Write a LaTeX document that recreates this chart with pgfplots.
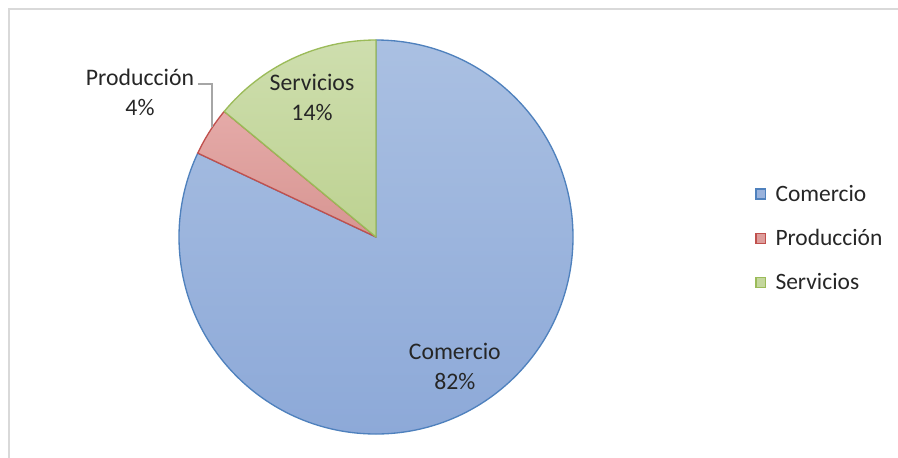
\documentclass[border=0pt]{standalone}
\usepackage{pgfplots}
\pgfplotsset{compat=1.18}
\usepackage{pgfplotstable}
\usepackage{fontspec}
\setmainfont{Carlito}
\definecolor{txt}{HTML}{262626}
\definecolor{cAt}{HTML}{AAC0E2}
\definecolor{cAb}{HTML}{8DA9D8}
\definecolor{cAl}{HTML}{4F81BD}
\definecolor{cBt}{HTML}{E5AAA8}
\definecolor{cBb}{HTML}{D79592}
\definecolor{cBl}{HTML}{C0504D}
\definecolor{cCt}{HTML}{CEDEAE}
\definecolor{cCb}{HTML}{BDD291}
\definecolor{cCl}{HTML}{9BBB59}
\definecolor{frame}{HTML}{D9D9D9}
\definecolor{lead}{HTML}{A6A6A6}

\pgfplotstableread{
name value
Comercio 82
Producción 4
Servicios 14
}\piedata

\pgfplotstablegetelem{0}{value}\of\piedata \let\vA\pgfplotsretval
\pgfplotstablegetelem{1}{value}\of\piedata \let\vB\pgfplotsretval
\pgfplotstablegetelem{2}{value}\of\piedata \let\vC\pgfplotsretval
\pgfmathsetmacro\aA{90}
\pgfmathsetmacro\aB{\aA-3.6*\vA}
\pgfmathsetmacro\aC{\aB-3.6*\vB}
\pgfmathsetmacro\aD{\aC-3.6*\vC}
\def\R{147.75pt}

\begin{document}
\begin{tikzpicture}
\begin{scope}[x=0.75pt,y=-0.75pt]
\path[use as bounding box] (0,0) rectangle (898,457);
\draw[frame, line width=1.5pt] (8.5,460) -- (8.5,8.5) -- (900,8.5);
\coordinate (ctr) at (376,237);
\end{scope}
\begin{axis}[
  at={(ctr)}, anchor=center,
  scale only axis, width=295.5pt, height=295.5pt,
  xmin=-1, xmax=1, ymin=-1, ymax=1,
  hide axis, clip=false,
  legend style={draw=none, fill=none, at={(1.462,0.497)}, anchor=west,
    font=\fontsize{17.6}{20}\selectfont, text=txt, row sep=15.5pt,
    inner sep=0pt},
  legend cell align=left,
  legend image code/.code={\draw[#1, line width=0.9pt] (0pt,-3.7pt) rectangle (7.4pt,3.7pt); \path (12.5pt,0pt);},
]
\addlegendimage{draw=cAl, fill=cAb!60!cAt}
\addlegendentry{Comercio}
\addlegendimage{draw=cBl, fill=cBb!60!cBt}
\addlegendentry{Producción}
\addlegendimage{draw=cCl, fill=cCb!60!cCt}
\addlegendentry{Servicios}

\path[top color=cAt, bottom color=cAb, draw=cAl, line width=1pt, line join=round]
  (axis cs:0,0) -- (axis cs:{cos(\aA)},{sin(\aA)}) arc[start angle=\aA, end angle=\aB, radius=\R] -- cycle;
\path[top color=cBt, bottom color=cBb, draw=cBl, line width=1pt, line join=round]
  (axis cs:0,0) -- (axis cs:{cos(\aB)},{sin(\aB)}) arc[start angle=\aB, end angle=\aC, radius=\R] -- cycle;
\path[top color=cCt, bottom color=cCb, draw=cCl, line width=1pt, line join=round]
  (axis cs:0,0) -- (axis cs:{cos(\aC)},{sin(\aC)}) arc[start angle=\aC, end angle=\aD, radius=\R] -- cycle;

\node[align=center, text=txt, font=\fontsize{17.8}{22.5}\selectfont] at (axis cs:0.40,-0.655) {Comercio\\82\%};
\node[align=center, text=txt, font=\fontsize{17.8}{22.5}\selectfont] at (axis cs:-0.325,0.71) {Servicios\\14\%};
\node[align=center, text=txt, font=\fontsize{17.8}{22.5}\selectfont] at (axis cs:-1.198,0.735) {Producción\\4\%};
\draw[lead, line width=0.9pt] (axis cs:-0.904,0.777) -- (axis cs:-0.832,0.777) -- (axis cs:-0.832,0.558);
\end{axis}
\end{tikzpicture}
\end{document}
